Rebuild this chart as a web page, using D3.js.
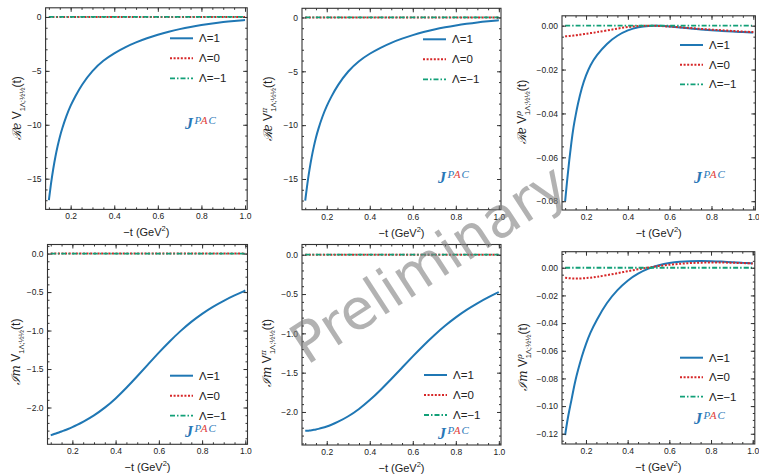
<!DOCTYPE html>
<html>
<head>
<meta charset="utf-8">
<script src="https://cdn.jsdelivr.net/npm/d3@7"></script>
<style>
  body { margin: 0; background: #fff; }
  svg text { font-family: "Liberation Sans", Arial, sans-serif; }
</style>
</head>
<body>
<div id="container"></div>
<script>
/* DATA */
const tGrid = [0.10,0.11,0.12,0.13,0.14,0.15,0.16,0.18,0.20,0.22,0.25,0.30,0.35,0.40,0.45,0.50,0.55,0.60,0.65,0.70,0.75,0.80,0.85,0.90,0.95,1.00];

const zeroSeries = [0,0,0,0,0,0,0,0,0,0,0,0,0,0,0,0,0,0,0,0,0,0,0,0,0,0];

// Re V, Lambda = 1
const reV1 = [-17.0,-15.40,-14.07,-12.94,-11.97,-11.13,-10.40,-9.18,-8.20,-7.40,-6.30,-4.95,-4.02,-3.35,-2.80,-2.35,-1.97,-1.64,-1.36,-1.12,-0.92,-0.75,-0.60,-0.47,-0.37,-0.28];
// Re V^pi, Lambda = 1
const reVpi1 = [-17.0,-15.40,-14.07,-12.94,-11.97,-11.13,-10.40,-9.18,-8.20,-7.40,-6.30,-4.95,-4.02,-3.35,-2.80,-2.34,-1.96,-1.63,-1.35,-1.11,-0.91,-0.74,-0.59,-0.46,-0.36,-0.27];
// Re V^rho
const reVrho1 = [-0.080,-0.070,-0.061,-0.053,-0.046,-0.041,-0.036,-0.028,-0.0225,-0.018,-0.0135,-0.0080,-0.0044,-0.0020,-0.0006,0.0000,0.0000,-0.0004,-0.0008,-0.0013,-0.0017,-0.0021,-0.0024,-0.0027,-0.0029,-0.0031];
const reVrho0 = [-0.0048,-0.0048,-0.0047,-0.0046,-0.0045,-0.0044,-0.0043,-0.0040,-0.0037,-0.0034,-0.0030,-0.0022,-0.0013,-0.0006,-0.0001,0.0000,-0.0001,-0.0004,-0.0007,-0.0011,-0.0015,-0.0018,-0.0021,-0.0024,-0.0027,-0.0029];
// Im V, Lambda = 1
const imV1 = [-2.360,-2.351,-2.342,-2.332,-2.322,-2.312,-2.301,-2.279,-2.255,-2.229,-2.186,-2.105,-2.005,-1.885,-1.745,-1.595,-1.440,-1.285,-1.140,-1.005,-0.885,-0.780,-0.690,-0.612,-0.543,-0.480];
// Im V^pi, Lambda = 1
const imVpi1 = [-2.240,-2.238,-2.235,-2.231,-2.227,-2.222,-2.216,-2.202,-2.185,-2.165,-2.130,-2.058,-1.965,-1.852,-1.722,-1.582,-1.437,-1.292,-1.152,-1.022,-0.902,-0.795,-0.700,-0.617,-0.542,-0.475];
// Im V^rho
const imVrho1 = [-0.121,-0.111,-0.103,-0.096,-0.088,-0.081,-0.075,-0.064,-0.055,-0.047,-0.038,-0.025,-0.016,-0.009,-0.0040,-0.0005,0.0020,0.0035,0.0044,0.0048,0.0049,0.0048,0.0045,0.0040,0.0036,0.0032];
const imVrho0 = [-0.0072,-0.0074,-0.0076,-0.0077,-0.0078,-0.0078,-0.0078,-0.0077,-0.0075,-0.0072,-0.0066,-0.0054,-0.0040,-0.0025,-0.0011,0.0002,0.0013,0.0022,0.0029,0.0034,0.0037,0.0038,0.0038,0.0036,0.0034,0.0031];

const legendLabels = ["Λ=1", "Λ=0", "Λ=−1"];
const xTicks = [0.2, 0.4, 0.6, 0.8, 1.0];
const xLimits = [0.085, 1.01];
const yTicksBig = [-15, -10, -5, 0];
const yTicksIm = [-2.0, -1.5, -1.0, -0.5, 0.0];
const yTicksReRho = [-0.08, -0.06, -0.04, -0.02, 0.00];
const yTicksImRho = [-0.12, -0.10, -0.08, -0.06, -0.04, -0.02, 0.00];

/* STYLES */
const lineStyles = [
  {color: "#1f77b4", dash: null, width: 2},
  {color: "#d62728", dash: "2,1.6", width: 2},
  {color: "#12a078", dash: "5,2,1.5,2", width: 1.8}
];
const axisColor = "#333";

/* PANELS */
const panels = [
  {box: {l: 45.6, r: 247.2, t: 7.8, b: 209.4}, yDom: [-17.85, 0.85], yTicks: yTicksBig, yMinor: 1, fmt: "d",
   series: [reV1, zeroSeries, zeroSeries], part: "ℛe", sup: null, lab: {x: 21, y: 108},
   leg: {x: 170, y: 38.3, dy: 20}, logo: {x: 185, y: 129}},
  {box: {l: 302, r: 501, t: 8.3, b: 209.7}, yDom: [-17.85, 0.85], yTicks: yTicksBig, yMinor: 1, fmt: "d",
   series: [reVpi1, zeroSeries, zeroSeries], part: "ℛe", sup: "π", lab: {x: 272, y: 109},
   leg: {x: 423, y: 39.3, dy: 20}, logo: {x: 438, y: 183}},
  {box: {l: 562, r: 755.4, t: 15.8, b: 210}, yDom: [-0.084, 0.0045], yTicks: yTicksReRho, yMinor: 0.005, fmt: ".2f",
   series: [reVrho1, reVrho0, zeroSeries], part: "ℛe", sup: "ρ", lab: {x: 526, y: 112},
   leg: {x: 680, y: 45, dy: 19.7}, logo: {x: 694, y: 183}},
  {box: {l: 47.5, r: 247.5, t: 244.5, b: 444.3}, yDom: [-2.478, 0.118], yTicks: yTicksIm, yMinor: 0.1, fmt: ".1f",
   series: [imV1, zeroSeries, zeroSeries], part: "ℐm", sup: null, lab: {x: 20, y: 352},
   leg: {x: 170, y: 375.7, dy: 20}, logo: {x: 185, y: 437}},
  {box: {l: 302, r: 501, t: 244.5, b: 445}, yDom: [-2.42, 0.13], yTicks: yTicksIm, yMinor: 0.1, fmt: ".1f",
   series: [imVpi1, zeroSeries, zeroSeries], part: "ℐm", sup: "π", lab: {x: 271, y: 353},
   leg: {x: 424, y: 375, dy: 20}, logo: {x: 438, y: 439}},
  {box: {l: 562, r: 754.8, t: 251.7, b: 444}, yDom: [-0.1274, 0.0116], yTicks: yTicksImRho, yMinor: 0.005, fmt: ".2f",
   series: [imVrho1, imVrho0, zeroSeries], part: "ℐm", sup: "ρ", lab: {x: 527, y: 357},
   leg: {x: 680, y: 357.7, dy: 19.5}, logo: {x: 694, y: 424}}
];

/* SVG */
const svg = d3.select("#container")
  .append("svg")
  .attr("width", 759)
  .attr("height", 475);

panels.forEach(p => drawPanel(p));

// watermark
svg.append("text")
  .attr("transform", "translate(431,267) rotate(-33)")
  .attr("text-anchor", "middle")
  .attr("dominant-baseline", "middle")
  .style("font-family", "'DejaVu Sans', sans-serif")
  .attr("font-size", 56)
  .attr("fill", "gray")
  .attr("opacity", 0.6)
  .text("Preliminary");

function drawPanel(p) {
  const xScale = d3.scaleLinear().domain(xLimits).range([p.box.l, p.box.r]);
  const yScale = d3.scaleLinear().domain(p.yDom).range([p.box.b, p.box.t]);
  const g = svg.append("g");

  // curves
  const line = d3.line()
    .x((d, i) => xScale(tGrid[i]))
    .y(d => yScale(d))
    .curve(d3.curveBasis);

  p.series.forEach((s, k) => {
    const st = lineStyles[k];
    g.append("path")
      .attr("d", line(s))
      .attr("fill", "none")
      .attr("stroke", st.color)
      .attr("stroke-width", st.width)
      .attr("stroke-dasharray", st.dash);
  });

  // axes: ticks pointing in on all four sides
  const xMinor = d3.range(0.1, 1.0001, 0.05);
  const yLo = Math.ceil(p.yDom[0] / p.yMinor - 1e-9), yHi = Math.floor(p.yDom[1] / p.yMinor + 1e-9);
  const yMinor = d3.range(yLo, yHi + 1).map(k => +(k * p.yMinor).toFixed(6));

  const add = (axis, tr) => g.append("g").attr("transform", tr).call(axis);
  add(d3.axisBottom(xScale).tickValues(xTicks).tickSize(-4).tickSizeOuter(0).tickPadding(4).tickFormat(d3.format(".1f")), `translate(0,${p.box.b})`);
  add(d3.axisBottom(xScale).tickValues(xMinor).tickSize(-2).tickSizeOuter(0).tickFormat(""), `translate(0,${p.box.b})`);
  add(d3.axisTop(xScale).tickValues(xTicks).tickSize(-4).tickSizeOuter(0).tickFormat(""), `translate(0,${p.box.t})`);
  add(d3.axisTop(xScale).tickValues(xMinor).tickSize(-2).tickSizeOuter(0).tickFormat(""), `translate(0,${p.box.t})`);
  add(d3.axisLeft(yScale).tickValues(p.yTicks).tickSize(-4).tickSizeOuter(0).tickPadding(4).tickFormat(d3.format(p.fmt)), `translate(${p.box.l},0)`);
  add(d3.axisLeft(yScale).tickValues(yMinor).tickSize(-2).tickSizeOuter(0).tickFormat(""), `translate(${p.box.l},0)`);
  add(d3.axisRight(yScale).tickValues(p.yTicks).tickSize(-4).tickSizeOuter(0).tickFormat(""), `translate(${p.box.r},0)`);
  add(d3.axisRight(yScale).tickValues(yMinor).tickSize(-2).tickSizeOuter(0).tickFormat(""), `translate(${p.box.r},0)`);

  g.selectAll(".domain").remove();
  g.selectAll(".tick line").attr("stroke", axisColor).attr("stroke-width", 1);
  g.selectAll(".tick text").attr("fill", "#222").attr("font-size", 8.5);

  g.append("rect")
    .attr("x", p.box.l).attr("y", p.box.t)
    .attr("width", p.box.r - p.box.l).attr("height", p.box.b - p.box.t)
    .attr("fill", "none").attr("stroke", axisColor).attr("stroke-width", 1.1);

  // x label
  const xl = g.append("text")
    .attr("x", (p.box.l + p.box.r) / 2)
    .attr("y", p.box.b + 27)
    .attr("text-anchor", "middle")
    .attr("font-size", 11)
    .attr("fill", "#222");
  xl.append("tspan").text("−t (GeV");
  xl.append("tspan").attr("font-size", 7.5).attr("dy", -5).text("2");
  xl.append("tspan").attr("dy", 5).text(")");

  // y label
  const yl = g.append("text")
    .attr("transform", `translate(${p.lab.x},${p.lab.y}) rotate(-90)`)
    .attr("text-anchor", "middle")
    .attr("font-size", 12)
    .attr("fill", "#222");
  yl.append("tspan").style("font-family", "'DejaVu Serif', serif").attr("font-style", "italic").text(p.part);
  yl.append("tspan").text(" V");
  if (p.sup) {
    yl.append("tspan").attr("font-size", 8).attr("dy", -5).style("font-family", "'DejaVu Serif', serif").attr("font-style", "italic").text(p.sup);
    yl.append("tspan").attr("font-size", 7.5).attr("dx", -4).attr("dy", 8.5).text("1Λ;½½");
  } else {
    yl.append("tspan").attr("font-size", 7.5).attr("dy", 3.5).text("1Λ;½½");
  }
  yl.append("tspan").attr("dy", -3.5).text("(t)");

  // legend
  legendLabels.forEach((lab, k) => {
    const st = lineStyles[k];
    const ly = p.leg.y + k * p.leg.dy;
    g.append("line")
      .attr("x1", p.leg.x).attr("x2", p.leg.x + 23)
      .attr("y1", ly).attr("y2", ly)
      .attr("stroke", st.color)
      .attr("stroke-width", st.width)
      .attr("stroke-dasharray", st.dash);
    g.append("text")
      .attr("x", p.leg.x + 29).attr("y", ly + 4)
      .attr("font-size", 11.5)
      .attr("fill", "#222")
      .text(lab);
  });

  // JPAC logo
  const lg = g.append("text")
    .attr("x", p.logo.x).attr("y", p.logo.y)
    .style("font-family", "'Liberation Serif', 'Times New Roman', serif");
  lg.append("tspan").attr("font-size", 16).attr("font-weight", "bold").attr("font-style", "italic").attr("fill", "#2a78b8").text("J");
  const sup = {size: 11, spacing: 1};
  lg.append("tspan").attr("font-size", sup.size).attr("font-style", "italic").attr("letter-spacing", sup.spacing).attr("dy", -5).attr("dx", 1.5).attr("fill", "#2a78b8").text("P");
  lg.append("tspan").attr("font-size", sup.size).attr("font-style", "italic").attr("letter-spacing", sup.spacing).attr("fill", "#e0403a").text("A");
  lg.append("tspan").attr("font-size", sup.size).attr("font-style", "italic").attr("fill", "#2a78b8").text("C");
}
</script>
</body>
</html>
